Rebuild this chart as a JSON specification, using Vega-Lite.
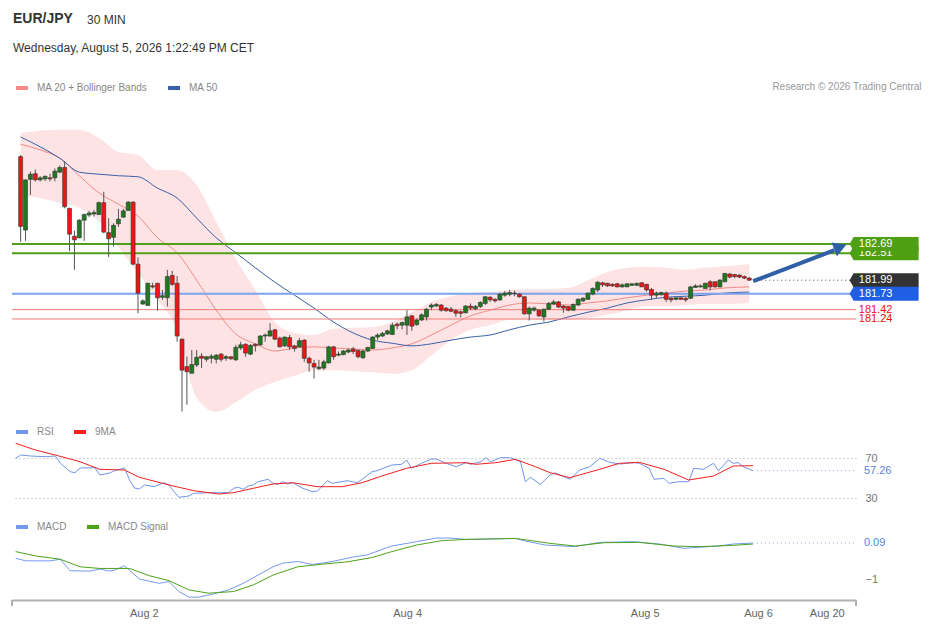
{
  "$schema": "https://vega.github.io/schema/vega-lite/v6.json",
  "background": "white",
  "padding": {"left": 11, "right": 4, "top": 12, "bottom": 8},
  "title": {"text": "30 MIN", "anchor": "start", "frame": "group", "dx": 75, "dy": 15, "offset": 0, "fontSize": 12, "fontWeight": "normal", "color": "#333333"},
  "config": {"font": "Liberation Sans", "view": {"stroke": null}, "axis": {"grid": false}},
  "bounds": "flush",
  "spacing": 17,
  "resolve": {"scale": {"x": "independent", "y": "independent", "color": "independent"}, "legend": {"color": "independent"}},
  "datasets": {
    "candles": [
      {"i":0,"o":184.38,"h":184.41,"l":182.73,"c":183.03},
      {"i":1,"o":182.96,"h":183.94,"l":182.75,"c":183.93},
      {"i":2,"o":183.94,"h":184.09,"l":183.64,"c":184.04},
      {"i":3,"o":184.05,"h":184.13,"l":183.90,"c":183.93},
      {"i":4,"o":183.93,"h":184.00,"l":183.90,"c":183.97},
      {"i":5,"o":183.95,"h":184.01,"l":183.91,"c":184.00},
      {"i":6,"o":183.97,"h":184.05,"l":183.90,"c":183.95},
      {"i":7,"o":183.97,"h":184.15,"l":183.90,"c":184.10},
      {"i":8,"o":184.08,"h":184.21,"l":184.06,"c":184.17},
      {"i":9,"o":184.17,"h":184.29,"l":183.38,"c":183.41},
      {"i":10,"o":183.38,"h":183.39,"l":182.55,"c":182.88},
      {"i":11,"o":182.84,"h":182.95,"l":182.19,"c":182.77},
      {"i":12,"o":182.81,"h":183.17,"l":182.80,"c":183.15},
      {"i":13,"o":183.15,"h":183.28,"l":182.75,"c":183.26},
      {"i":14,"o":183.25,"h":183.33,"l":183.21,"c":183.29},
      {"i":15,"o":183.27,"h":183.35,"l":183.22,"c":183.30},
      {"i":16,"o":183.26,"h":183.51,"l":183.25,"c":183.49},
      {"i":17,"o":183.49,"h":183.70,"l":182.90,"c":182.92},
      {"i":18,"o":182.91,"h":183.19,"l":182.44,"c":182.79},
      {"i":19,"o":182.82,"h":183.09,"l":182.64,"c":183.05},
      {"i":20,"o":183.08,"h":183.37,"l":183.02,"c":183.17},
      {"i":21,"o":183.21,"h":183.37,"l":183.19,"c":183.33},
      {"i":22,"o":183.34,"h":183.52,"l":183.33,"c":183.50},
      {"i":23,"o":183.50,"h":183.52,"l":182.28,"c":182.30},
      {"i":24,"o":182.30,"h":182.43,"l":181.35,"c":181.74},
      {"i":25,"o":181.53,"h":181.62,"l":181.51,"c":181.59},
      {"i":26,"o":181.50,"h":181.94,"l":181.49,"c":181.93},
      {"i":27,"o":181.88,"h":181.94,"l":181.83,"c":181.86},
      {"i":28,"o":181.93,"h":181.94,"l":181.40,"c":181.65},
      {"i":29,"o":181.66,"h":181.80,"l":181.61,"c":181.69},
      {"i":30,"o":181.65,"h":182.19,"l":181.48,"c":182.06},
      {"i":31,"o":182.08,"h":182.17,"l":181.88,"c":181.91},
      {"i":32,"o":181.93,"h":182.07,"l":180.80,"c":180.91},
      {"i":33,"o":180.85,"h":180.86,"l":179.45,"c":180.25},
      {"i":34,"o":180.32,"h":180.51,"l":179.58,"c":180.22},
      {"i":35,"o":180.19,"h":180.64,"l":180.19,"c":180.36},
      {"i":36,"o":180.35,"h":180.64,"l":180.31,"c":180.50},
      {"i":37,"o":180.52,"h":180.58,"l":180.29,"c":180.48},
      {"i":38,"o":180.46,"h":180.52,"l":180.41,"c":180.51},
      {"i":39,"o":180.48,"h":180.56,"l":180.38,"c":180.52},
      {"i":40,"o":180.46,"h":180.56,"l":180.38,"c":180.54},
      {"i":41,"o":180.56,"h":180.58,"l":180.41,"c":180.46},
      {"i":42,"o":180.48,"h":180.54,"l":180.43,"c":180.51},
      {"i":43,"o":180.51,"h":180.52,"l":180.45,"c":180.47},
      {"i":44,"o":180.45,"h":180.74,"l":180.43,"c":180.69},
      {"i":45,"o":180.68,"h":180.80,"l":180.64,"c":180.74},
      {"i":46,"o":180.75,"h":180.77,"l":180.51,"c":180.58},
      {"i":47,"o":180.56,"h":180.75,"l":180.54,"c":180.73},
      {"i":48,"o":180.75,"h":180.77,"l":180.61,"c":180.72},
      {"i":49,"o":180.74,"h":180.93,"l":180.72,"c":180.91},
      {"i":50,"o":180.91,"h":180.96,"l":180.80,"c":180.93},
      {"i":51,"o":180.91,"h":181.16,"l":180.90,"c":181.01},
      {"i":52,"o":181.03,"h":181.05,"l":180.83,"c":180.85},
      {"i":53,"o":180.87,"h":180.90,"l":180.69,"c":180.70},
      {"i":54,"o":180.72,"h":180.90,"l":180.70,"c":180.89},
      {"i":55,"o":180.88,"h":180.93,"l":180.64,"c":180.70},
      {"i":56,"o":180.72,"h":180.74,"l":180.61,"c":180.67},
      {"i":57,"o":180.70,"h":180.87,"l":180.69,"c":180.82},
      {"i":58,"o":180.83,"h":180.85,"l":180.41,"c":180.48},
      {"i":59,"o":180.48,"h":180.51,"l":180.22,"c":180.39},
      {"i":60,"o":180.38,"h":180.45,"l":180.09,"c":180.31},
      {"i":61,"o":180.28,"h":180.45,"l":180.25,"c":180.31},
      {"i":62,"o":180.29,"h":180.45,"l":180.25,"c":180.41},
      {"i":63,"o":180.39,"h":180.72,"l":180.38,"c":180.70},
      {"i":64,"o":180.70,"h":180.72,"l":180.45,"c":180.51},
      {"i":65,"o":180.54,"h":180.61,"l":180.52,"c":180.56},
      {"i":66,"o":180.55,"h":180.64,"l":180.54,"c":180.62},
      {"i":67,"o":180.60,"h":180.67,"l":180.58,"c":180.64},
      {"i":68,"o":180.66,"h":180.70,"l":180.56,"c":180.61},
      {"i":69,"o":180.63,"h":180.65,"l":180.48,"c":180.51},
      {"i":70,"o":180.49,"h":180.64,"l":180.47,"c":180.62},
      {"i":71,"o":180.62,"h":180.70,"l":180.60,"c":180.69},
      {"i":72,"o":180.67,"h":180.91,"l":180.66,"c":180.89},
      {"i":73,"o":180.89,"h":180.96,"l":180.83,"c":180.93},
      {"i":74,"o":180.91,"h":180.99,"l":180.89,"c":180.96},
      {"i":75,"o":180.95,"h":181.03,"l":180.93,"c":181.01},
      {"i":76,"o":180.94,"h":181.17,"l":180.93,"c":181.12},
      {"i":77,"o":181.14,"h":181.17,"l":181.04,"c":181.11},
      {"i":78,"o":181.12,"h":181.19,"l":181.04,"c":181.17},
      {"i":79,"o":181.12,"h":181.41,"l":180.93,"c":181.28},
      {"i":80,"o":181.30,"h":181.32,"l":181.01,"c":181.10},
      {"i":81,"o":181.13,"h":181.25,"l":181.11,"c":181.22},
      {"i":82,"o":181.22,"h":181.35,"l":181.20,"c":181.32},
      {"i":83,"o":181.28,"h":181.45,"l":181.21,"c":181.43},
      {"i":84,"o":181.47,"h":181.54,"l":181.41,"c":181.51},
      {"i":85,"o":181.49,"h":181.55,"l":181.47,"c":181.52},
      {"i":86,"o":181.51,"h":181.53,"l":181.38,"c":181.41},
      {"i":87,"o":181.45,"h":181.47,"l":181.38,"c":181.40},
      {"i":88,"o":181.43,"h":181.47,"l":181.37,"c":181.39},
      {"i":89,"o":181.40,"h":181.43,"l":181.28,"c":181.35},
      {"i":90,"o":181.38,"h":181.40,"l":181.27,"c":181.35},
      {"i":91,"o":181.36,"h":181.51,"l":181.35,"c":181.49},
      {"i":92,"o":181.49,"h":181.54,"l":181.41,"c":181.45},
      {"i":93,"o":181.44,"h":181.51,"l":181.41,"c":181.48},
      {"i":94,"o":181.48,"h":181.58,"l":181.45,"c":181.56},
      {"i":95,"o":181.54,"h":181.68,"l":181.51,"c":181.67},
      {"i":96,"o":181.66,"h":181.68,"l":181.57,"c":181.61},
      {"i":97,"o":181.62,"h":181.64,"l":181.56,"c":181.59},
      {"i":98,"o":181.61,"h":181.74,"l":181.59,"c":181.72},
      {"i":99,"o":181.70,"h":181.78,"l":181.67,"c":181.74},
      {"i":100,"o":181.72,"h":181.80,"l":181.68,"c":181.75},
      {"i":101,"o":181.74,"h":181.79,"l":181.68,"c":181.73},
      {"i":102,"o":181.72,"h":181.74,"l":181.65,"c":181.67},
      {"i":103,"o":181.67,"h":181.68,"l":181.32,"c":181.34},
      {"i":104,"o":181.34,"h":181.48,"l":181.21,"c":181.45},
      {"i":105,"o":181.41,"h":181.48,"l":181.38,"c":181.45},
      {"i":106,"o":181.41,"h":181.43,"l":181.28,"c":181.30},
      {"i":107,"o":181.28,"h":181.44,"l":181.19,"c":181.43},
      {"i":108,"o":181.43,"h":181.57,"l":181.41,"c":181.54},
      {"i":109,"o":181.53,"h":181.61,"l":181.51,"c":181.57},
      {"i":110,"o":181.57,"h":181.59,"l":181.45,"c":181.47},
      {"i":111,"o":181.49,"h":181.51,"l":181.36,"c":181.45},
      {"i":112,"o":181.48,"h":181.49,"l":181.39,"c":181.41},
      {"i":113,"o":181.41,"h":181.54,"l":181.40,"c":181.52},
      {"i":114,"o":181.51,"h":181.64,"l":181.49,"c":181.62},
      {"i":115,"o":181.59,"h":181.66,"l":181.57,"c":181.64},
      {"i":116,"o":181.62,"h":181.75,"l":181.61,"c":181.74},
      {"i":117,"o":181.72,"h":181.85,"l":181.70,"c":181.83},
      {"i":118,"o":181.80,"h":181.97,"l":181.76,"c":181.95},
      {"i":119,"o":181.94,"h":181.96,"l":181.86,"c":181.90},
      {"i":120,"o":181.93,"h":181.94,"l":181.86,"c":181.88},
      {"i":121,"o":181.91,"h":181.93,"l":181.86,"c":181.88},
      {"i":122,"o":181.92,"h":181.94,"l":181.85,"c":181.86},
      {"i":123,"o":181.86,"h":181.93,"l":181.85,"c":181.90},
      {"i":124,"o":181.86,"h":181.93,"l":181.86,"c":181.92},
      {"i":125,"o":181.89,"h":181.93,"l":181.88,"c":181.92},
      {"i":126,"o":181.89,"h":181.94,"l":181.88,"c":181.93},
      {"i":127,"o":181.94,"h":181.95,"l":181.86,"c":181.86},
      {"i":128,"o":181.91,"h":181.92,"l":181.77,"c":181.80},
      {"i":129,"o":181.81,"h":181.84,"l":181.61,"c":181.70},
      {"i":130,"o":181.70,"h":181.77,"l":181.64,"c":181.74},
      {"i":131,"o":181.71,"h":181.77,"l":181.69,"c":181.75},
      {"i":132,"o":181.74,"h":181.77,"l":181.57,"c":181.62},
      {"i":133,"o":181.64,"h":181.66,"l":181.56,"c":181.61},
      {"i":134,"o":181.62,"h":181.66,"l":181.60,"c":181.65},
      {"i":135,"o":181.65,"h":181.66,"l":181.61,"c":181.62},
      {"i":136,"o":181.64,"h":181.66,"l":181.57,"c":181.61},
      {"i":137,"o":181.64,"h":181.88,"l":181.63,"c":181.86},
      {"i":138,"o":181.85,"h":181.91,"l":181.84,"c":181.88},
      {"i":139,"o":181.86,"h":181.91,"l":181.85,"c":181.88},
      {"i":140,"o":181.83,"h":181.94,"l":181.82,"c":181.93},
      {"i":141,"o":181.96,"h":181.99,"l":181.79,"c":181.86},
      {"i":142,"o":181.96,"h":181.97,"l":181.85,"c":181.86},
      {"i":143,"o":181.86,"h":182.01,"l":181.85,"c":181.99},
      {"i":144,"o":181.96,"h":182.13,"l":181.95,"c":182.12},
      {"i":145,"o":182.11,"h":182.13,"l":182.03,"c":182.05},
      {"i":146,"o":182.10,"h":182.11,"l":182.03,"c":182.06},
      {"i":147,"o":182.09,"h":182.10,"l":182.03,"c":182.05},
      {"i":148,"o":182.06,"h":182.08,"l":182.01,"c":182.03},
      {"i":149,"o":182.03,"h":182.05,"l":181.98,"c":181.99}
    ],
    "ind": [
      {"i":0,"ma20":184.62,"ma50":184.76,"up":184.84,"lo":183.62},
      {"i":4,"ma20":184.51,"ma50":184.57,"up":184.88,"lo":183.58},
      {"i":8,"ma20":184.35,"ma50":184.35,"up":184.90,"lo":183.48},
      {"i":12,"ma20":184.01,"ma50":184.08,"up":184.90,"lo":183.39},
      {"i":16,"ma20":183.68,"ma50":184.04,"up":184.74,"lo":183.12},
      {"i":20,"ma20":183.46,"ma50":184.01,"up":184.47,"lo":182.63},
      {"i":24,"ma20":183.23,"ma50":183.99,"up":184.41,"lo":182.13},
      {"i":28,"ma20":182.81,"ma50":183.77,"up":184.12,"lo":181.61},
      {"i":32,"ma20":182.52,"ma50":183.58,"up":184.12,"lo":181.03},
      {"i":36,"ma20":181.99,"ma50":183.19,"up":183.83,"lo":179.71},
      {"i":40,"ma20":181.41,"ma50":182.81,"up":183.12,"lo":179.44},
      {"i":44,"ma20":180.95,"ma50":182.52,"up":182.40,"lo":179.63},
      {"i":48,"ma20":180.76,"ma50":182.23,"up":181.80,"lo":179.87},
      {"i":52,"ma20":180.62,"ma50":181.95,"up":181.18,"lo":180.02},
      {"i":56,"ma20":180.68,"ma50":181.70,"up":180.97,"lo":180.14},
      {"i":60,"ma20":180.70,"ma50":181.45,"up":180.93,"lo":180.25},
      {"i":64,"ma20":180.68,"ma50":181.18,"up":181.05,"lo":180.25},
      {"i":68,"ma20":180.66,"ma50":180.97,"up":181.07,"lo":180.23},
      {"i":72,"ma20":180.64,"ma50":180.83,"up":181.08,"lo":180.21},
      {"i":76,"ma20":180.68,"ma50":180.77,"up":181.18,"lo":180.18},
      {"i":80,"ma20":180.76,"ma50":180.72,"up":181.37,"lo":180.25},
      {"i":84,"ma20":180.93,"ma50":180.76,"up":181.57,"lo":180.54},
      {"i":88,"ma20":181.12,"ma50":180.83,"up":181.68,"lo":180.83},
      {"i":92,"ma20":181.30,"ma50":180.89,"up":181.74,"lo":181.03},
      {"i":96,"ma20":181.41,"ma50":180.93,"up":181.76,"lo":181.12},
      {"i":100,"ma20":181.51,"ma50":181.03,"up":181.80,"lo":181.22},
      {"i":104,"ma20":181.55,"ma50":181.12,"up":181.82,"lo":181.22},
      {"i":108,"ma20":181.53,"ma50":181.18,"up":181.82,"lo":181.22},
      {"i":112,"ma20":181.51,"ma50":181.28,"up":181.84,"lo":181.22},
      {"i":116,"ma20":181.55,"ma50":181.37,"up":181.99,"lo":181.26},
      {"i":120,"ma20":181.59,"ma50":181.45,"up":182.15,"lo":181.32},
      {"i":124,"ma20":181.65,"ma50":181.55,"up":182.23,"lo":181.41},
      {"i":128,"ma20":181.70,"ma50":181.61,"up":182.25,"lo":181.49},
      {"i":132,"ma20":181.74,"ma50":181.66,"up":182.23,"lo":181.49},
      {"i":136,"ma20":181.78,"ma50":181.68,"up":182.19,"lo":181.51},
      {"i":140,"ma20":181.80,"ma50":181.70,"up":182.23,"lo":181.53},
      {"i":144,"ma20":181.84,"ma50":181.74,"up":182.26,"lo":181.53},
      {"i":149,"ma20":181.86,"ma50":181.76,"up":182.30,"lo":181.55}
    ],
    "rsi": [
      {"i":0,"v":69.7},{"i":1,"v":73},{"i":3,"v":72},{"i":6,"v":71.3},{"i":8,"v":72},{"i":9,"v":65},
      {"i":11,"v":56.3},{"i":12,"v":55.3},{"i":13,"v":60},{"i":16,"v":60.3},{"i":17,"v":53},{"i":19,"v":55},
      {"i":20,"v":57.3},{"i":22,"v":60},{"i":23,"v":48},{"i":24,"v":40},{"i":25,"v":39},{"i":26,"v":43},
      {"i":28,"v":41.3},{"i":30,"v":45.3},{"i":31,"v":43},{"i":32,"v":36.3},{"i":33,"v":30.7},{"i":35,"v":32},
      {"i":36,"v":34.7},{"i":39,"v":35.3},{"i":43,"v":35.3},{"i":44,"v":39.7},{"i":45,"v":40.7},{"i":46,"v":38.7},
      {"i":47,"v":42},{"i":48,"v":43},{"i":49,"v":46.3},{"i":51,"v":48.7},{"i":52,"v":44.7},{"i":53,"v":43.7},
      {"i":54,"v":46.3},{"i":55,"v":44},{"i":56,"v":45.3},{"i":58,"v":39.7},{"i":60,"v":36.3},{"i":61,"v":37},
      {"i":63,"v":47.3},{"i":64,"v":44.7},{"i":67,"v":47.3},{"i":69,"v":45.3},{"i":70,"v":48.7},{"i":72,"v":56.3},
      {"i":73,"v":57.3},{"i":76,"v":63},{"i":78,"v":63.7},{"i":79,"v":68},{"i":80,"v":59.7},{"i":82,"v":64.7},
      {"i":84,"v":69},{"i":85,"v":69},{"i":87,"v":64.7},{"i":89,"v":61.3},{"i":91,"v":65.3},{"i":92,"v":63.7},
      {"i":94,"v":66.3},{"i":95,"v":70.3},{"i":96,"v":66.3},{"i":98,"v":70.3},{"i":100,"v":70.3},{"i":102,"v":66.3},
      {"i":103,"v":46.3},{"i":104,"v":50.7},{"i":106,"v":43.7},{"i":108,"v":53},{"i":109,"v":55.3},{"i":112,"v":48.7},
      {"i":114,"v":58},{"i":116,"v":61.3},{"i":118,"v":69.7},{"i":120,"v":65.7},{"i":122,"v":64},{"i":125,"v":65.3},
      {"i":126,"v":64.7},{"i":128,"v":59.7},{"i":129,"v":48.7},{"i":131,"v":49.7},{"i":132,"v":44.7},{"i":134,"v":46.3},
      {"i":136,"v":46.3},{"i":137,"v":59.7},{"i":139,"v":58.7},{"i":141,"v":64.7},{"i":142,"v":57.3},{"i":144,"v":68},
      {"i":145,"v":64.7},{"i":146,"v":65.3},{"i":147,"v":61.3},{"i":149,"v":57.26}
    ],
    "rsima": [
      {"i":0,"v":84.7},{"i":4,"v":78},{"i":8,"v":73},{"i":13,"v":66.3},{"i":17,"v":58.7},{"i":22,"v":58},
      {"i":25,"v":50.7},{"i":31,"v":43},{"i":36,"v":37.3},{"i":41,"v":34},{"i":44,"v":35.3},{"i":48,"v":39.7},
      {"i":52,"v":44},{"i":56,"v":45.3},{"i":61,"v":41.3},{"i":66,"v":41.3},{"i":70,"v":45.3},{"i":74,"v":52},
      {"i":79,"v":59.7},{"i":84,"v":64.7},{"i":91,"v":65.3},{"i":93,"v":63.7},{"i":97,"v":65.3},{"i":101,"v":68.7},
      {"i":105,"v":61.3},{"i":108,"v":55.3},{"i":112,"v":50.3},{"i":118,"v":58.7},{"i":122,"v":64.7},{"i":126,"v":65.7},
      {"i":131,"v":58.7},{"i":136,"v":48},{"i":141,"v":52},{"i":145,"v":62},{"i":149,"v":62.3}
    ],
    "macd": [
      {"i":0,"v":-0.37},{"i":2,"v":-0.45},{"i":7,"v":-0.45},{"i":9,"v":-0.40},{"i":11,"v":-0.75},{"i":15,"v":-0.76},
      {"i":17,"v":-0.70},{"i":19,"v":-0.76},{"i":20,"v":-0.73},{"i":22,"v":-0.60},{"i":25,"v":-1.00},{"i":29,"v":-1.13},
      {"i":31,"v":-1.08},{"i":33,"v":-1.38},{"i":35,"v":-1.55},{"i":37,"v":-1.55},{"i":40,"v":-1.45},{"i":43,"v":-1.33},
      {"i":46,"v":-1.13},{"i":49,"v":-0.88},{"i":52,"v":-0.63},{"i":54,"v":-0.52},{"i":57,"v":-0.47},{"i":60,"v":-0.56},
      {"i":64,"v":-0.47},{"i":68,"v":-0.34},{"i":71,"v":-0.27},{"i":76,"v":0.00},{"i":81,"v":0.13},{"i":85,"v":0.24},
      {"i":88,"v":0.24},{"i":91,"v":0.20},{"i":95,"v":0.21},{"i":101,"v":0.23},{"i":103,"v":0.15},{"i":107,"v":0.03},
      {"i":113,"v":-0.02},{"i":118,"v":0.11},{"i":125,"v":0.13},{"i":130,"v":0.06},{"i":135,"v":-0.07},{"i":142,"v":0.00},
      {"i":145,"v":0.06},{"i":149,"v":0.09}
    ],
    "signal": [
      {"i":0,"v":-0.17},{"i":4,"v":-0.30},{"i":9,"v":-0.40},{"i":13,"v":-0.63},{"i":17,"v":-0.68},{"i":23,"v":-0.68},
      {"i":27,"v":-0.90},{"i":31,"v":-1.05},{"i":35,"v":-1.33},{"i":39,"v":-1.43},{"i":44,"v":-1.38},{"i":48,"v":-1.18},
      {"i":52,"v":-0.88},{"i":57,"v":-0.63},{"i":62,"v":-0.55},{"i":67,"v":-0.48},{"i":72,"v":-0.35},{"i":76,"v":-0.17},
      {"i":81,"v":0.03},{"i":86,"v":0.16},{"i":91,"v":0.20},{"i":101,"v":0.23},{"i":108,"v":0.08},{"i":113,"v":0.00},
      {"i":119,"v":0.10},{"i":126,"v":0.11},{"i":133,"v":0.00},{"i":138,"v":-0.02},{"i":145,"v":0.02},{"i":149,"v":0.06}
    ]
  },
  "vconcat": [
    {
      "width": 844,
      "height": 320,
      "title": {"text": "EUR/JPY", "subtitle": "Wednesday, August 5, 2026 1:22:49 PM CET", "anchor": "start", "frame": "group", "dx": 1, "offset": 26, "fontSize": 14, "fontWeight": "bold", "color": "#333333", "subtitleFontSize": 12, "subtitleColor": "#333333", "subtitlePadding": 17},
      "layer": [
        {
          "data": {"name": "ind"},
          "mark": {"type": "area", "color": "#fde3e3", "interpolate": "monotone"},
          "encoding": {
            "x": {"field": "i", "type": "quantitative", "scale": {"domain": [-0.742, 169.8], "nice": false, "zero": false},
                  "axis": {"orient": "top", "labels": false, "ticks": false, "domain": false, "grid": false,
                           "title": "Research © 2026 Trading Central", "titleX": 909, "titleY": -14, "titleAlign": "right", "titleBaseline": "middle",
                           "titleFontSize": 10, "titleFontWeight": "normal", "titleColor": "#999999"}},
            "y": {"field": "up", "type": "quantitative", "scale": {"domain": [179.286, 185.475], "nice": false, "zero": false}, "axis": null},
            "y2": {"field": "lo"}
          }
        },
        {
          "data": {"name": "ind"},
          "mark": {"type": "line", "strokeWidth": 1, "interpolate": "monotone"},
          "encoding": {
            "x": {"field": "i", "type": "quantitative"},
            "y": {"field": "ma20", "type": "quantitative"},
            "color": {"datum": "MA 20 + Bollinger Bands",
                      "scale": {"domain": ["MA 20 + Bollinger Bands", "MA 50"], "range": ["#f48a8a", "#3a60a8"]},
                      "legend": {"orient": "none", "legendX": 2, "legendY": -20, "direction": "horizontal", "title": null,
                                 "symbolType": "M-1,0H1", "symbolSize": 144, "symbolStrokeWidth": 4,
                                 "labelFontSize": 10, "labelColor": "#888888", "labelOffset": 7, "columnPadding": 12}}
          }
        },
        {
          "data": {"name": "ind"},
          "mark": {"type": "line", "strokeWidth": 1, "interpolate": "monotone"},
          "encoding": {
            "x": {"field": "i", "type": "quantitative"},
            "y": {"field": "ma50", "type": "quantitative"},
            "color": {"datum": "MA 50"}
          }
        },
        {
          "data": {"values": [{"p": 182.69}, {"p": 182.51}]},
          "mark": {"type": "rule", "color": "#4f9f17", "strokeWidth": 2},
          "encoding": {"y": {"field": "p", "type": "quantitative"}}
        },
        {
          "data": {"values": [{"p": 181.73}]},
          "mark": {"type": "rule", "color": "#7ca3ec", "strokeWidth": 2},
          "encoding": {"y": {"field": "p", "type": "quantitative"}}
        },
        {
          "data": {"values": [{"p": 181.42}, {"p": 181.24}]},
          "mark": {"type": "rule", "color": "#f17a7a", "strokeWidth": 1},
          "encoding": {"y": {"field": "p", "type": "quantitative"}}
        },
        {
          "data": {"name": "candles"},
          "mark": {"type": "rule", "color": "#555555", "strokeWidth": 1},
          "encoding": {
            "x": {"field": "i", "type": "quantitative"},
            "y": {"field": "l", "type": "quantitative"},
            "y2": {"field": "h"}
          }
        },
        {
          "data": {"name": "candles"},
          "mark": {"type": "bar", "size": 4, "stroke": "#333333", "strokeWidth": 0.6},
          "encoding": {
            "x": {"field": "i", "type": "quantitative"},
            "y": {"field": "o", "type": "quantitative"},
            "y2": {"field": "c"},
            "color": {"condition": {"test": "datum.c >= datum.o", "value": "#1e7a1e"}, "value": "#ee1515"}
          }
        },
        {
          "data": {"values": [{}]},
          "mark": {"type": "rule", "color": "#555555", "strokeDash": [1, 3], "strokeWidth": 1},
          "encoding": {"x": {"datum": 149.8}, "x2": {"datum": 169.8}, "y": {"datum": 181.99}}
        },
        {
          "data": {"values": [{"i": 149.8, "p": 181.97}, {"i": 166.4, "p": 182.57}]},
          "mark": {"type": "line", "color": "#2f5fa6", "strokeWidth": 4},
          "encoding": {"x": {"field": "i", "type": "quantitative"}, "y": {"field": "p", "type": "quantitative"}}
        },
        {
          "data": {"values": [{}]},
          "mark": {"type": "point", "shape": "triangle-right", "angle": 339, "size": 220, "filled": true, "color": "#2f5fa6", "opacity": 1},
          "encoding": {"x": {"datum": 167.6}, "y": {"datum": 182.63}}
        },
        {
          "data": {"values": [{"p": 181.42, "t": "181.42"}, {"p": 181.24, "t": "181.24"}]},
          "mark": {"type": "text", "align": "left", "baseline": "middle", "fontSize": 11, "color": "#e8120c"},
          "encoding": {"x": {"datum": 171.4}, "y": {"field": "p", "type": "quantitative"}, "text": {"field": "t"}}
        },
        {
          "data": {"values": [{"p": 182.51}]},
          "mark": {"type": "point", "shape": "M-4.93,0L-4.36,-1H4.93V1H-4.36Z", "size": 196, "filled": true, "color": "#4e9f12", "opacity": 1, "strokeWidth": 0},
          "encoding": {"x": {"datum": 176.57}, "y": {"field": "p", "type": "quantitative"}}
        },
        {
          "data": {"values": [{"p": 182.51, "t": "182.51"}]},
          "mark": {"type": "text", "align": "left", "baseline": "middle", "fontSize": 11, "color": "white"},
          "encoding": {"x": {"datum": 171.4}, "y": {"field": "p", "type": "quantitative"}, "text": {"field": "t"}}
        },
        {
          "data": {"values": [{"p": 182.69}]},
          "mark": {"type": "point", "shape": "M-4.93,0L-4.36,-1H4.93V1H-4.36Z", "size": 196, "filled": true, "color": "#4e9f12", "opacity": 1, "strokeWidth": 0},
          "encoding": {"x": {"datum": 176.57}, "y": {"field": "p", "type": "quantitative"}}
        },
        {
          "data": {"values": [{"p": 181.99}]},
          "mark": {"type": "point", "shape": "M-4.93,0L-4.36,-1H4.93V1H-4.36Z", "size": 196, "filled": true, "color": "#333333", "opacity": 1, "strokeWidth": 0},
          "encoding": {"x": {"datum": 176.57}, "y": {"field": "p", "type": "quantitative"}}
        },
        {
          "data": {"values": [{"p": 181.73}]},
          "mark": {"type": "point", "shape": "M-4.93,0L-4.36,-1H4.93V1H-4.36Z", "size": 196, "filled": true, "color": "#1f5fe6", "opacity": 1, "strokeWidth": 0},
          "encoding": {"x": {"datum": 176.57}, "y": {"field": "p", "type": "quantitative"}}
        },
        {
          "data": {"values": [{"p": 182.69, "t": "182.69"}, {"p": 181.99, "t": "181.99"}, {"p": 181.73, "t": "181.73"}]},
          "mark": {"type": "text", "align": "left", "baseline": "middle", "fontSize": 11, "color": "white"},
          "encoding": {"x": {"datum": 171.4}, "y": {"field": "p", "type": "quantitative"}, "text": {"field": "t"}}
        }
      ]
    },
    {
      "width": 844,
      "height": 76,
      "layer": [
        {
          "data": {"name": "rsi"},
          "mark": {"type": "line", "strokeWidth": 1},
          "encoding": {
            "x": {"field": "i", "type": "quantitative", "scale": {"domain": [-0.742, 169.8], "nice": false, "zero": false}, "axis": null},
            "y": {"field": "v", "type": "quantitative", "scale": {"domain": [15, 91], "nice": false, "zero": false},
                  "axis": {"orient": "right", "values": [30, 50, 70], "grid": true, "gridDash": [1, 3], "gridColor": "#aaaaaa",
                           "domain": false, "ticks": false, "tickSize": 0, "labelPadding": 9, "labelFontSize": 11, "labelColor": "#777777", "title": null}},
            "color": {"datum": "RSI",
                      "scale": {"domain": ["RSI", "9MA"], "range": ["#6f95ec", "#ee2020"]},
                      "legend": {"orient": "none", "legendX": 2, "legendY": -13, "direction": "horizontal", "title": null,
                                 "symbolType": "M-1,0H1", "symbolSize": 144, "symbolStrokeWidth": 4,
                                 "labelFontSize": 10, "labelColor": "#888888", "labelOffset": 7, "columnPadding": 12}}
          }
        },
        {
          "data": {"name": "rsima"},
          "mark": {"type": "line", "strokeWidth": 1},
          "encoding": {
            "x": {"field": "i", "type": "quantitative"},
            "y": {"field": "v", "type": "quantitative"},
            "color": {"datum": "9MA"}
          }
        },
        {
          "data": {"values": [{}]},
          "mark": {"type": "rule", "color": "#8aa7e8", "strokeDash": [1, 3], "strokeWidth": 1},
          "encoding": {"x": {"datum": 149.8}, "x2": {"datum": 169.8}, "y": {"datum": 57.26}}
        },
        {
          "data": {"values": [{}]},
          "mark": {"type": "point", "shape": "M-4.93,0L-4.36,-1H4.93V1H-4.36Z", "size": 196, "filled": true, "color": "white", "opacity": 1, "strokeWidth": 0},
          "encoding": {"x": {"datum": 176.57}, "y": {"datum": 57.26}}
        },
        {
          "data": {"values": [{"v": 57.26, "t": "57.26"}]},
          "mark": {"type": "text", "align": "left", "baseline": "middle", "fontSize": 11, "color": "#5a82e0"},
          "encoding": {"x": {"datum": 171.4}, "y": {"field": "v", "type": "quantitative"}, "text": {"field": "t"}}
        }
      ]
    },
    {
      "width": 844,
      "height": 70,
      "layer": [
        {
          "data": {"name": "macd"},
          "mark": {"type": "line", "strokeWidth": 1},
          "encoding": {
            "x": {"field": "i", "type": "quantitative", "scale": {"domain": [-0.742, 169.8], "nice": false, "zero": false},
                  "axis": {"orient": "bottom", "values": [25.9, 79.1, 127.1, 150.0, 163.9],
                           "labelExpr": "datum.value < 50 ? 'Aug 2' : datum.value < 100 ? 'Aug 4' : datum.value < 140 ? 'Aug 5' : datum.value < 155 ? 'Aug 6' : 'Aug 20'",
                           "ticks": false, "tickSize": 0, "domainColor": "#b0b0b0", "domainWidth": 2, "labelPadding": 7,
                           "labelFontSize": 11, "labelColor": "#666666", "labelFlush": false, "labelOverlap": false, "grid": false, "title": null}},
            "y": {"field": "v", "type": "quantitative", "scale": {"domain": [-1.636, 0.485], "nice": false, "zero": false},
                  "axis": {"orient": "right", "values": [-1, 0], "grid": false, "domain": false, "ticks": false, "tickSize": 0,
                           "labelPadding": 9, "labelFontSize": 11, "labelColor": "#777777", "title": null}},
            "color": {"datum": "MACD",
                      "scale": {"domain": ["MACD", "MACD Signal"], "range": ["#7499ec", "#4da31c"]},
                      "legend": {"orient": "none", "legendX": 2, "legendY": -11, "direction": "horizontal", "title": null,
                                 "symbolType": "M-1,0H1", "symbolSize": 144, "symbolStrokeWidth": 4,
                                 "labelFontSize": 10, "labelColor": "#888888", "labelOffset": 7, "columnPadding": 12}}
          }
        },
        {
          "data": {"name": "signal"},
          "mark": {"type": "line", "strokeWidth": 1},
          "encoding": {
            "x": {"field": "i", "type": "quantitative"},
            "y": {"field": "v", "type": "quantitative"},
            "color": {"datum": "MACD Signal"}
          }
        },
        {
          "data": {"values": [{"e": -0.742}, {"e": 169.8}]},
          "mark": {"type": "rule", "color": "#b0b0b0", "strokeWidth": 2},
          "encoding": {"x": {"field": "e", "type": "quantitative"}, "y": {"datum": -1.636}, "y2": {"datum": -1.82}}
        },
        {
          "data": {"values": [{}]},
          "mark": {"type": "rule", "color": "#8aa7e8", "strokeDash": [1, 3], "strokeWidth": 1},
          "encoding": {"x": {"datum": 149.8}, "x2": {"datum": 169.8}, "y": {"datum": 0.09}}
        },
        {
          "data": {"values": [{}]},
          "mark": {"type": "point", "shape": "M-4.93,0L-4.36,-1H4.93V1H-4.36Z", "size": 196, "filled": true, "color": "white", "opacity": 1, "strokeWidth": 0},
          "encoding": {"x": {"datum": 176.57}, "y": {"datum": 0.09}}
        },
        {
          "data": {"values": [{"v": 0.09, "t": "0.09"}]},
          "mark": {"type": "text", "align": "left", "baseline": "middle", "fontSize": 11, "color": "#5a82e0"},
          "encoding": {"x": {"datum": 171.4}, "y": {"field": "v", "type": "quantitative"}, "text": {"field": "t"}}
        }
      ]
    }
  ]
}
